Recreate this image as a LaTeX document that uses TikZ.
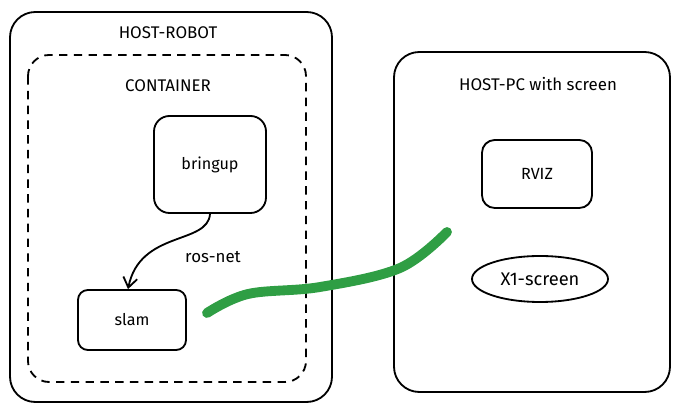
\documentclass[tikz,border=0pt]{standalone}
\usepackage{fontspec}
\setmainfont{Fira Sans}
\usetikzlibrary{arrows.meta,shapes.geometric}

\tikzset{
    appbox/.style={draw,rounded corners=#1,align=center,font=\fontsize{11.5}{13}\selectfont},
    appbox/.default=8pt,
    lbl/.style={font=\fontsize{12}{14}\selectfont},
}

\begin{document}
\begin{tikzpicture}[x=0.025cm,y=-0.025cm,line width=1.3pt]
    % Bounding box (reference size)
    \useasboundingbox (0,0) rectangle (683,411);

    % Hosts
    \draw[rounded corners=18pt] (10,12) rectangle (332,402); % robot
    \draw[dash pattern=on 6pt off 4.5pt,rounded corners=15pt] (28,55) rectangle (306,382); % container
    \draw[rounded corners=18pt] (394,52) rectangle (670,392); % pc

    % Labels
    \node[lbl] (robotlbl) at (168,33) {HOST-ROBOT};
    \node[lbl] (containerlbl) at (168,86) {CONTAINER};
    \node[lbl] (pclbl) at (538,84) {HOST-PC with screen};

    % Nodes in the container
    \node[appbox=11pt,minimum width=112*0.025cm,minimum height=97*0.025cm] (bringup) at (210,164.5) {bringup};
    \node[appbox=7pt,minimum width=108*0.025cm,minimum height=60*0.025cm] (slam) at (132,320) {slam};

    % Nodes on the pc
    \node[appbox=9pt,minimum width=110*0.025cm,minimum height=68*0.025cm] (rviz) at (537,174) {RVIZ};
    \node[draw,ellipse,font=\fontsize{13}{15}\selectfont,minimum width=136*0.025cm,minimum height=46*0.025cm,inner sep=1pt] (xscreen) at (540,279) {X1-screen};

    % ros-net link
    \draw[-{Straight Barb[length=7pt,width=10pt]}] (bringup.south)
        .. controls (208,245) and (140,230) .. ([xshift=-4*0.025cm]slam.north);
    \node[lbl] (rosnet) at (213,257) {ros-net};

    % Display forwarding
    \coordinate (gstart) at (207,313);
    \coordinate (gend) at (447,232);
    \draw[line width=7pt,line cap=round,color={rgb,255:red,47;green,158;blue,68}]
        plot[smooth,tension=0.6] coordinates {(gstart) (248,294) (320,287) (400,268) (gend)};
\end{tikzpicture}
\end{document}
